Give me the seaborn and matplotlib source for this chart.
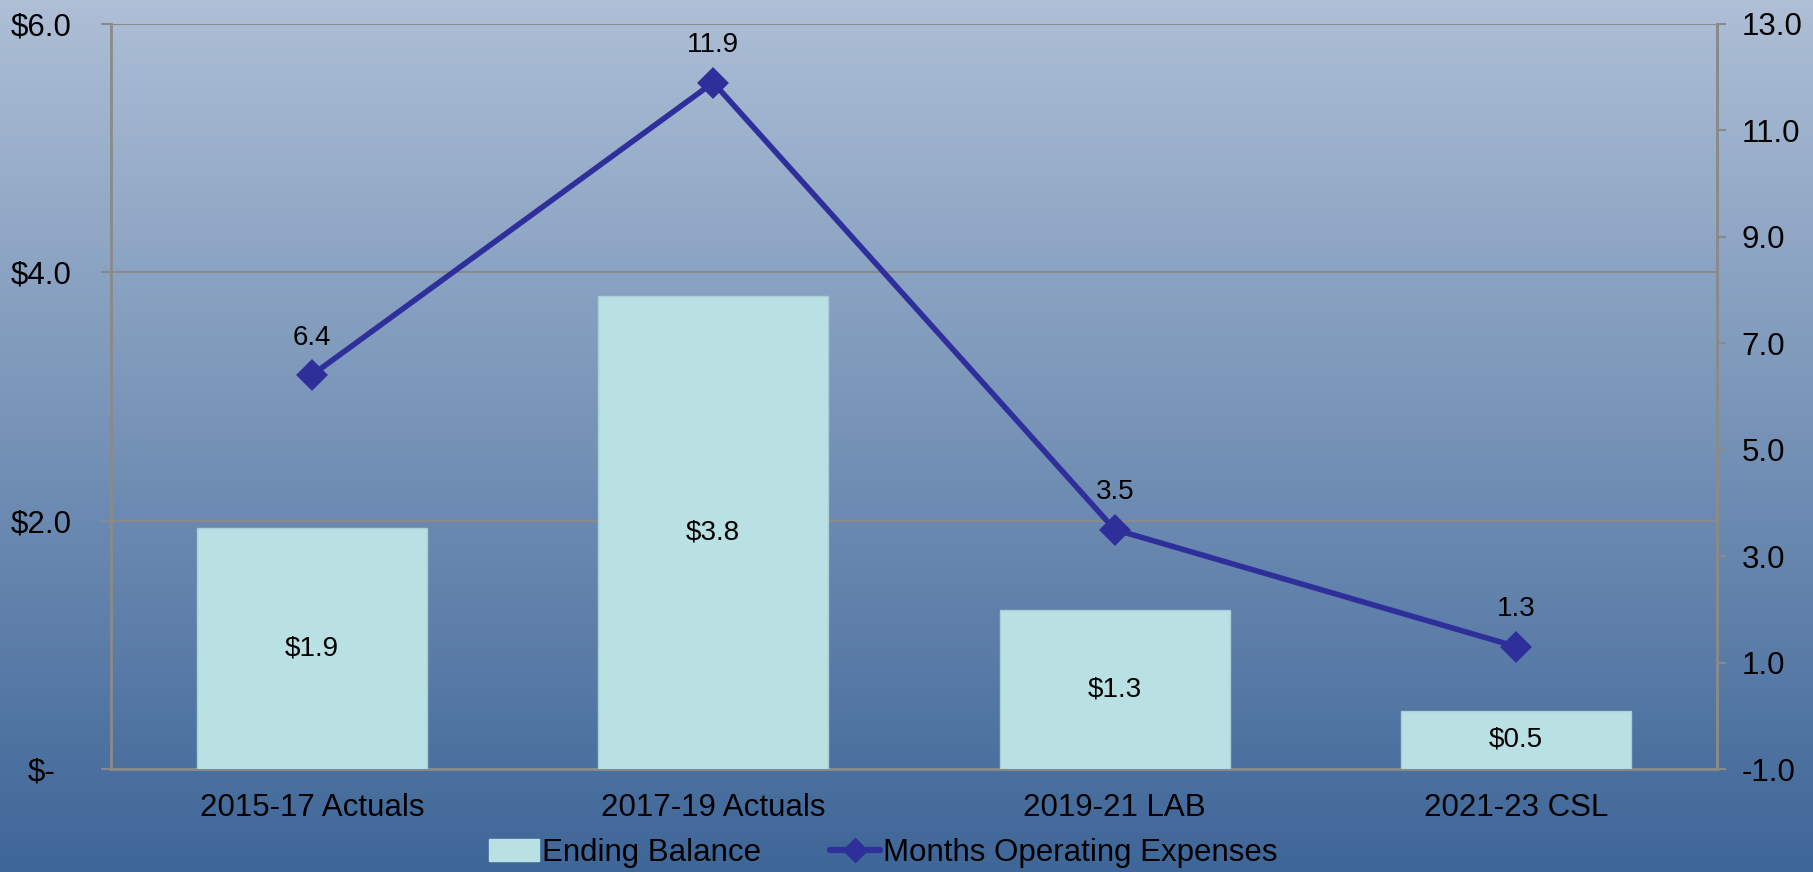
import numpy as np
import pandas as pd
import matplotlib
matplotlib.use("Agg")
import matplotlib.pyplot as plt
from matplotlib.colors import LinearSegmentedColormap
from matplotlib.patches import Patch
from matplotlib.lines import Line2D
import seaborn as sns

categories = ["2015-17 Actuals", "2017-19 Actuals", "2019-21 LAB", "2021-23 CSL"]
ending_balance = [1.94, 3.81, 1.28, 0.47]
balance_labels = ["$1.9", "$3.8", "$1.3", "$0.5"]
months_opex = [6.4, 11.9, 3.5, 1.3]
left_ticks = [0, 2, 4, 6]
left_tick_labels = ["$-", "$2.0", "$4.0", "$6.0"]
right_ticks = [-1, 1, 3, 5, 7, 9, 11, 13]

sns.set_theme(style="white")
plt.rcParams['font.family'] = ['Liberation Sans', 'DejaVu Sans']
plt.rcParams['text.color'] = 'black'
plt.rcParams['legend.labelcolor'] = 'black'

BAR = "#b9e0e3"
LINE = "#2f2f9c"
GRID = "#8a8a8a"
TICK_FS = 22.5
DATA_FS = 20

fig = plt.figure(figsize=(18.13, 8.72), dpi=100)

# gradient background
bg = fig.add_axes([0, 0, 1, 1], zorder=-10)
cmap = LinearSegmentedColormap.from_list("bg", ["#aebfd6", "#3e6698"])
grad = np.linspace(0, 1, 256).reshape(-1, 1)
bg.imshow(grad, aspect="auto", cmap=cmap, extent=[0, 1, 0, 1], origin="upper")
bg.set_axis_off()

ax = fig.add_axes([111/1813, 1 - 769/872, (1717-111)/1813, (769-24)/872])
ax.set_facecolor("none")

df = pd.DataFrame({"cat": categories, "bal": ending_balance, "months": months_opex})
sns.barplot(data=df, x="cat", y="bal", color=BAR, saturation=1, width=0.573,
            edgecolor="#a9cfd6", linewidth=1, ax=ax, zorder=3)
ax.set_xlim(-0.5, 3.5)
ax.set_ylim(0, 6)
ax.set_yticks(left_ticks)
ax.set_yticklabels(left_tick_labels)
ax.set_xlabel("")
ax.set_ylabel("")
for t in ax.get_yticklabels():
    t.set_horizontalalignment("center")
ax.tick_params(axis="y", which="both", left=True, length=7.2, width=1.5, color=GRID,
               pad=43, labelsize=TICK_FS, labelcolor="black")
ax.tick_params(axis="x", bottom=False, pad=11, labelsize=TICK_FS, labelcolor="black")
ax.yaxis.grid(True, color=GRID, linewidth=1.5, zorder=0)
ax.set_axisbelow(True)
ax.spines["top"].set_visible(False)
for s in ["left", "right", "bottom"]:
    ax.spines[s].set_color(GRID)
    ax.spines[s].set_linewidth(2)

for i, p in enumerate(ax.patches[:len(categories)]):
    ax.text(p.get_x() + p.get_width()/2, p.get_height()/2, balance_labels[i],
            ha="center", va="center", fontsize=DATA_FS, color="black", zorder=5)

ax2 = ax.twinx()
ax2.set_facecolor("none")
sns.pointplot(data=df, x="cat", y="months", color=LINE, markers="D",
              linestyles="-", markersize=13, linewidth=4, ax=ax2, zorder=6)
ax2.set_xlim(-0.5, 3.5)
ax2.set_ylim(-1, 13)
ax2.set_yticks(right_ticks)
ax2.set_yticklabels([f"{v:.1f}" for v in right_ticks])
ax2.set_ylabel("")
ax2.set_xlabel("")
ax2.tick_params(axis="y", right=True, length=6.5, width=1.5, color=GRID, pad=11,
                labelsize=TICK_FS, labelcolor="black")
for s in ["top", "left", "bottom"]:
    ax2.spines[s].set_visible(False)
ax2.spines["right"].set_color(GRID)
ax2.spines["right"].set_linewidth(2)
ax2.grid(False)

for i, v in enumerate(months_opex):
    ax2.annotate(f"{v:.1f}", (i, v), xytext=(0, 27), textcoords="offset points",
                 ha="center", va="center", fontsize=DATA_FS, color="black")

handles = [Patch(facecolor=BAR, edgecolor=BAR),
           Line2D([0], [0], color=LINE, lw=4.5, marker="D", markersize=12)]
leg = fig.legend(handles, ["Ending Balance", "Months Operating Expenses"],
                 loc="center", bbox_to_anchor=(0.487, 0.022), ncol=2, frameon=False,
                 fontsize=TICK_FS, handlelength=1.6, handletextpad=0.1, columnspacing=2.2)
for t in leg.get_texts():
    t.set_color("black")

fig.savefig("out.png", dpi=100)
